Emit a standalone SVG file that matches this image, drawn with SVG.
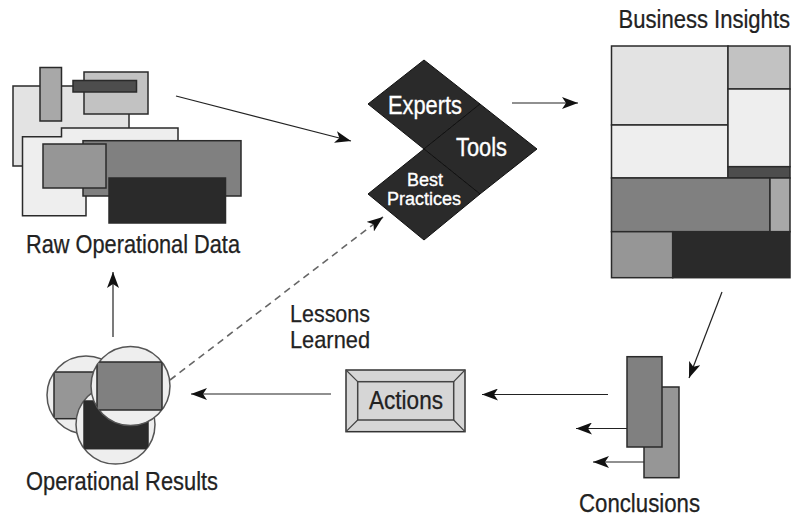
<svg xmlns="http://www.w3.org/2000/svg" width="793" height="516" viewBox="0 0 793 516">
<style>
.b{stroke:#2a2a2a;stroke-width:1.5}
.e{fill:#eeeeee}.l{fill:#e3e3e3}.c{fill:#c2c2c2}.a{fill:#a8a8a8}.g{fill:#969696}.m{fill:#808080}.d{fill:#4d4d4d}.k{fill:#2a2a2a}
text{font-family:"Liberation Sans","Arial",sans-serif;fill:#222222;font-size:25px;stroke:#222222;stroke-width:0.25}
text.w{fill:#ffffff;stroke:#ffffff;stroke-width:0.35}
.cn{fill:none;stroke:#222222;stroke-width:1.2}
</style>
<defs>
<marker id="ah" markerUnits="userSpaceOnUse" markerWidth="18" markerHeight="12" refX="16" refY="6" orient="auto"><path d="M0 0L16 6L0 12L4 6Z" fill="#111111"/></marker>
<clipPath id="c1"><circle cx="86" cy="395" r="39"/></clipPath>
<clipPath id="c2"><circle cx="130.500" cy="386" r="39.500"/></clipPath>
<clipPath id="c3"><circle cx="115.500" cy="424.500" r="39.500"/></clipPath>
</defs>
<g id="connectors">
<path class="cn" marker-end="url(#ah)" d="M176 96L351 141"/>
<path class="cn" marker-end="url(#ah)" d="M512 103H578"/>
<path class="cn" marker-end="url(#ah)" d="M722 292L689 378"/>
<path class="cn" marker-end="url(#ah)" d="M608 394.500H482"/>
<path class="cn" marker-end="url(#ah)" d="M331 394H191"/>
<path class="cn" marker-end="url(#ah)" d="M113 337V272"/>
<path class="cn" marker-end="url(#ah)" stroke-dasharray="7 5" style="stroke:#666666;stroke-width:1.6" d="M170 380L383 217"/>
<path class="cn" marker-end="url(#ah)" d="M627 428.500H576"/>
<path class="cn" marker-end="url(#ah)" d="M644 462H593"/>
</g>
<g id="raw-data">
<rect class="b l" x="13" y="86" width="116" height="80"/>
<rect class="b a" x="40" y="67.500" width="21.500" height="53.500"/>
<rect class="b c" x="84" y="72" width="64" height="42"/>
<rect class="b d" x="73" y="80.500" width="63.500" height="11.500"/>
<path class="b e" d="M61.500 136.700V128H178V150H86V215.700H22.500V136.700Z"/>
<rect class="b m" x="83" y="140.700" width="158" height="55.300"/>
<rect class="b g" x="43" y="144" width="63" height="44"/>
<rect class="b k" x="109" y="178" width="116.500" height="45"/>
<text x="26" y="253" textLength="214" lengthAdjust="spacingAndGlyphs">Raw Operational Data</text>
</g>
<g id="center">
<g id="experts"><path class="k" stroke="#111111" d="M424 60L480 104L424 149L368 104Z"/><text class="w" x="388" y="114" textLength="74" lengthAdjust="spacingAndGlyphs">Experts</text></g>
<g id="tools"><path class="k" stroke="#111111" d="M480 104L537 149L480 194L424 149Z"/><text class="w" x="456" y="156" textLength="51" lengthAdjust="spacingAndGlyphs">Tools</text></g>
<g id="best-practices"><path class="k" stroke="#111111" d="M424 149L480 194L424 240L368 194Z"/><text class="w" style="font-size:18px" x="407" y="186" textLength="36" lengthAdjust="spacingAndGlyphs">Best</text><text class="w" style="font-size:18px" x="387" y="205" textLength="74" lengthAdjust="spacingAndGlyphs">Practices</text></g>
</g>
<g id="business-insights">
<text transform="translate(618.500 28) scale(0.882 1)">Business Insights</text>
<rect class="b l" x="611.500" y="46" width="116.500" height="79"/>
<rect class="b e" x="611.500" y="125" width="116.500" height="53"/>
<rect class="b c" x="728" y="46" width="62" height="43"/>
<rect class="b e" x="728" y="89" width="62" height="77.700"/>
<rect class="b d" x="728" y="166.700" width="62" height="11.300"/>
<rect class="b m" x="611.500" y="178" width="158.500" height="53.700"/>
<rect class="b a" x="770" y="178" width="20" height="53.700"/>
<rect class="b g" x="611.500" y="231.700" width="61.200" height="46"/>
<rect class="b k" x="672.700" y="231.700" width="117.300" height="46"/>
</g>
<g id="conclusions">
<rect class="b g" x="644" y="387" width="35" height="90.700"/>
<rect class="b m" x="627" y="356.700" width="35" height="90.300"/>
<text x="579" y="512" textLength="121" lengthAdjust="spacingAndGlyphs">Conclusions</text>
</g>
<g id="actions">
<rect stroke="#333333" stroke-width="1.500" x="346" y="370" width="119" height="61.700" fill="#d6d6d6"/>
<rect fill="#d6d6d6" stroke="#444444" stroke-width="1.500" x="357.700" y="381.700" width="96" height="38.300"/>
<path fill="none" stroke="#444444" stroke-width="1.200" d="M346 370L357.700 381.700M465 370L453.700 381.700M346 431.700L357.700 420M465 431.700L453.700 420"/>
<text x="369" y="409" textLength="74" lengthAdjust="spacingAndGlyphs">Actions</text>
</g>
<g id="lessons-learned">
<text x="290" y="322" style="font-size:24px" textLength="80" lengthAdjust="spacingAndGlyphs">Lessons</text>
<text x="290" y="348" style="font-size:24px" textLength="80" lengthAdjust="spacingAndGlyphs">Learned</text>
</g>
<g id="operational-results">
<circle class="e" stroke="#555555" stroke-width="1.500" cx="86" cy="395" r="39"/>
<rect class="b g" x="54" y="372" width="60" height="46.700" clip-path="url(#c1)"/>
<circle class="e" stroke="#555555" stroke-width="1.500" cx="115.500" cy="424.500" r="39.500"/>
<rect class="b k" x="84" y="401" width="64" height="47.700" clip-path="url(#c3)"/>
<circle class="e" stroke="#555555" stroke-width="1.500" cx="130.500" cy="386" r="39.500"/>
<rect class="b m" x="97" y="362" width="65" height="48" clip-path="url(#c2)"/>
<text x="26" y="490" textLength="192" lengthAdjust="spacingAndGlyphs">Operational Results</text>
</g>
</svg>
